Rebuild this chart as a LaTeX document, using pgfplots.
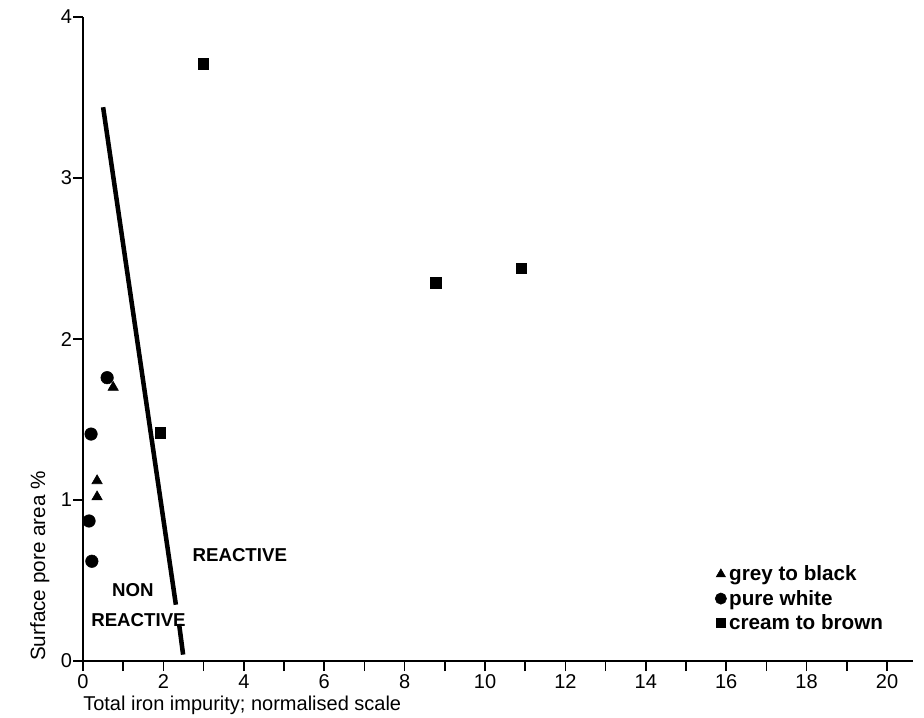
\documentclass[border=0pt]{standalone}
\usepackage{fontspec}
\setmainfont{Liberation Sans}
\usepackage{pgfplots}
\pgfplotsset{compat=1.18}
\begin{document}
\begin{tikzpicture}
\begin{axis}[
  x=30.15pt, y=120.75pt,
  xmin=0, xmax=20.65, ymin=0, ymax=4,
  axis x line=bottom, axis y line=left,
  axis line style={-, line width=1.6pt},
  xtick={0,2,...,20}, minor xtick={1,3,...,19},
  ytick={0,1,2,3,4},
  tick align=outside,
  major tick length=7.5pt, minor tick length=7.5pt,
  every tick/.style={black, line width=1.3pt},
  tick label style={font=\fontsize{15}{16}\selectfont},
  /pgf/number format/assume math mode=true,
  xticklabel style={yshift=1pt},
  yticklabel style={inner sep=0.5pt},
  xlabel={Total iron impurity; normalised scale},
  xlabel style={at={(axis description cs:0,0)}, anchor=north west, inner sep=0pt, xshift=0pt, yshift=-26pt, font=\fontsize{15}{16}\selectfont},
  ylabel={Surface pore area \%},
  ylabel style={at={(axis description cs:0,0)}, anchor=south west, inner sep=0pt, yshift=25pt, font=\fontsize{15.5}{17}\selectfont},
  legend style={draw=none, fill=none, at={(axis cs:15.72,0.61)}, anchor=north west, font=\bfseries\fontsize{15.5}{17}\selectfont, row sep=1.5pt, inner sep=0pt, /tikz/every even column/.append style={column sep=3pt}},
  legend cell align=left,
  legend image code/.code={\draw[#1, /tikz/every mark/.append style={scale=0.9}] plot coordinates {(0pt,0pt)};},
  clip=false,
]
\addplot[only marks, mark=triangle*, mark size=4.5pt, black] coordinates {
(0.75,1.70) (0.35,1.12) (0.35,1.02)
};
\addlegendentry{grey to black}
\addplot[only marks, mark=*, mark size=4.7pt, black] coordinates {
(0.60,1.76) (0.2,1.41) (0.15,0.87) (0.22,0.62)
};
\addlegendentry{pure white}
\addplot[only marks, mark=square*, mark size=4pt, black] coordinates {
(2.99,3.71) (8.78,2.35) (10.9,2.44) (1.92,1.42)
};
\addlegendentry{cream to brown}
\addplot[black, line width=3.4pt, forget plot] coordinates {(0.50,3.44) (2.31,0.35)};
\addplot[black, line width=3.4pt, forget plot] coordinates {(2.39,0.23) (2.49,0.04)};
\node[font=\bfseries\fontsize{14}{16}\selectfont] at (axis cs:3.9,0.66) {REACTIVE};
\node[font=\bfseries\fontsize{14}{16}\selectfont] at (axis cs:1.24,0.44) {NON};
\node[font=\bfseries\fontsize{14}{16}\selectfont] at (axis cs:1.38,0.255) {REACTIVE};
\path (axis cs:-2.065,-0.348) rectangle (axis cs:20.92,4.106);
\end{axis}
\end{tikzpicture}
\end{document}
